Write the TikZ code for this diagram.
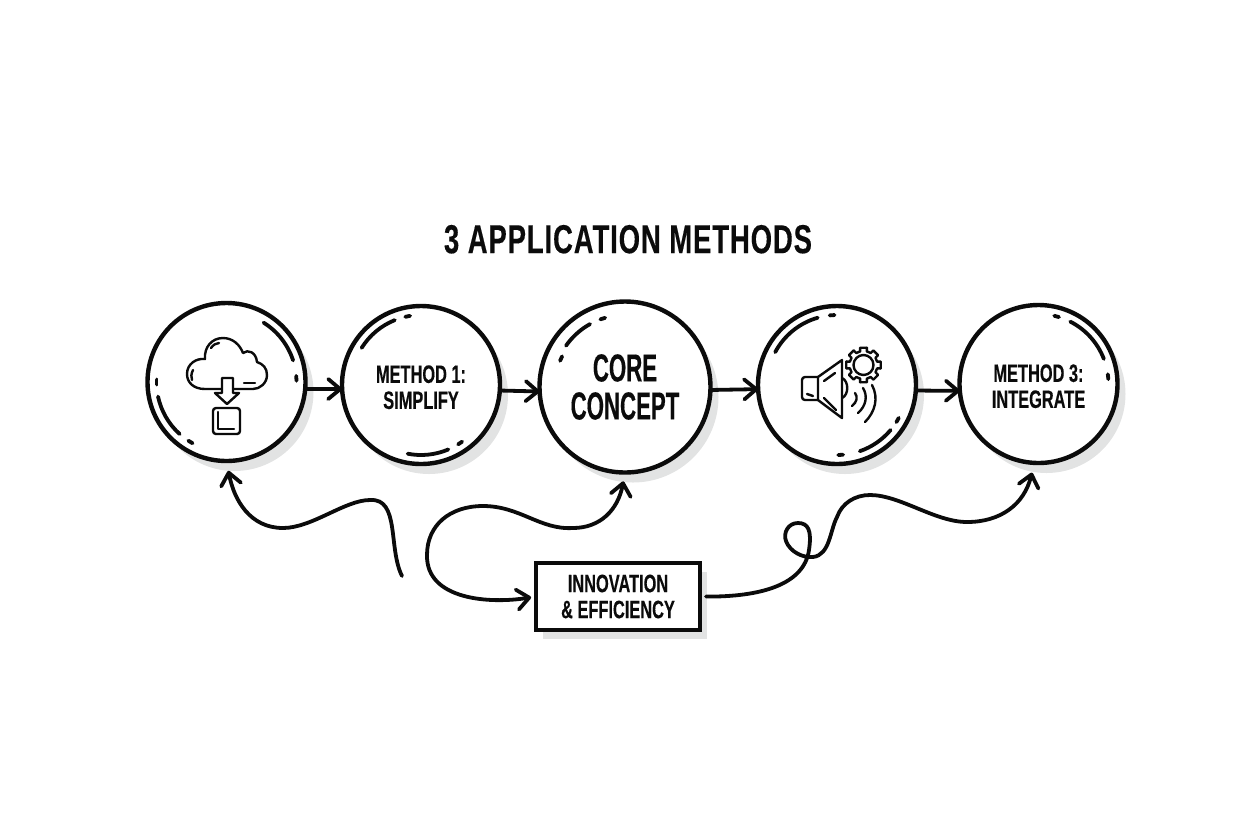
\documentclass[tikz,border=0pt]{standalone}
\usepackage{fontspec}
\usetikzlibrary{arrows.meta,positioning,calc,shadows}
\newfontfamily\headfont[FakeStretch=0.65,FakeBold=0.25]{Liberation Sans Bold}
\newfontfamily\corehead[FakeStretch=0.57,FakeBold=0.3]{Liberation Sans Bold}
\newfontfamily\titlehead[FakeStretch=0.68,FakeBold=0.3,LetterSpace=2.2]{Liberation Sans Bold}
\definecolor{inkblack}{HTML}{0B0B0B}
\definecolor{shadowgray}{HTML}{E2E3E3}
\tikzset{
    stepcircle/.style={circle, draw=inkblack, fill=white, line width=2.2pt, outer sep=0pt, inner sep=0pt, align=center, minimum size=79pt, text=inkblack,
        drop shadow={shadow xshift=4pt, shadow yshift=-5pt, opacity=1, fill=shadowgray}},
    stepfont/.style={font=\headfont\fontsize{12.6}{13}\selectfont},
    corefont/.style={font=\corehead\fontsize{19.5}{19}\selectfont},
    titlefont/.style={font=\titlehead\fontsize{20.2}{20}\selectfont},
    flowarrow/.style={-{Straight Barb[length=6pt,width=10pt,round]}, draw=inkblack, line width=1.9pt},
    flowcurve/.style={draw=inkblack, line width=1.9pt, line cap=round},
    glint/.style={draw=inkblack, line width=1.9pt, line cap=round},
    iconline/.style={draw=inkblack, line width=1.2pt, line cap=round, line join=round}
}
\newcommand{\glintarc}[3]{\draw[glint] ([shift={(#2:35pt)}]#1.center) arc[start angle=#2, end angle=#3, radius=35pt];}
\newcommand{\lowstrut}{\rule{0pt}{11pt}}
\begin{document}
\begin{tikzpicture}[x=0.5pt, y=-0.5pt]
    \useasboundingbox (0,0) rectangle (1248,832);
    \node[stepcircle] (cloudstep) at (226.5,382) {};
    \node[stepcircle, stepfont, right=18.25pt of cloudstep, yshift=-1.5pt] (simplify) {\lowstrut METHOD 1:\\SIMPLIFY};
    \node[stepcircle, corefont, minimum size=85.5pt, right=19.75pt of simplify, yshift=-1pt] (core) {CORE\\CONCEPT};
    \node[stepcircle, right=23.75pt of core, yshift=1pt] (soundstep) {};
    \node[stepcircle, stepfont, right=21.75pt of soundstep, yshift=0.5pt] (integrate) {\lowstrut METHOD 3:\\INTEGRATE};
    \node[titlefont, text=inkblack, inner sep=0pt, above=23.75pt of core, xshift=1.5pt] (title) {3 APPLICATION METHODS};
    \node[draw=inkblack, fill=white, line width=2pt, outer sep=0pt, align=center, stepfont, text=inkblack, minimum width=82pt, minimum height=33.5pt,
        drop shadow={shadow xshift=3.5pt, shadow yshift=-4.5pt, opacity=1, fill=shadowgray},
        below=45.25pt of core, xshift=-3.5pt] (innovation) {INNOVATION\\\& EFFICIENCY};

    % straight arrows along the row
    \draw[flowarrow] (cloudstep.-5) -- (simplify.183);
    \draw[flowarrow] (simplify.-4.5) -- (core.183);
    \draw[flowarrow] (core.-2) -- (soundstep.183.5);
    \draw[flowarrow] (soundstep.-4.5) -- (integrate.185);

    % curved connectors
    \coordinate (looseend) at (402,576);
    \draw[flowcurve, flowarrow, shorten >=5pt] (looseend) .. controls (388,548) and (400,498) .. (370,500)
        .. controls (345,500) and (312,528) .. (283,528)
        .. controls (250,528) and (234,500) .. (cloudstep.south);
    \draw[flowcurve, {Straight Barb[length=6pt,width=10pt,round]}-{Straight Barb[length=6pt,width=10pt,round]}, shorten <=2.5pt, shorten >=4.5pt]
        (innovation.west) .. controls (490,604) and (426,600) .. (427,555)
        .. controls (427,525) and (450,506) .. (483,506)
        .. controls (520,506) and (540,530) .. (573,528)
        .. controls (600,528) and (618,510) .. (core.south);
    \draw[flowcurve, flowarrow, shorten <=3pt, shorten >=5pt] (innovation.east) .. controls (760,597) and (804,585) .. (809,550)
        .. controls (812,530) and (808,523) .. (798,523)
        .. controls (788,523) and (783,533) .. (786,541)
        .. controls (790,552) and (803,558) .. (813,557)
        .. controls (830,555) and (830,530) .. (837,517)
        .. controls (842,503) and (855,495) .. (870,495)
        .. controls (900,495) and (935,522) .. (967,522)
        .. controls (1000,522) and (1024,505) .. (integrate.267);

    % glints inside the circles
    \glintarc{cloudstep}{58}{18}
    \glintarc{cloudstep}{192}{228}
    \glintarc{cloudstep}{1}{5}
    \glintarc{cloudstep}{178}{182}
    \glintarc{cloudstep}{237}{241}
    \glintarc{simplify}{148}{112}
    \glintarc{simplify}{99}{103}
    \glintarc{simplify}{259}{293}
    \glintarc{simplify}{302}{306}
    \glintarc{soundstep}{152}{106}
    \glintarc{soundstep}{92}{96}
    \glintarc{soundstep}{289}{320}
    \glintarc{soundstep}{328}{332}
    \glintarc{soundstep}{271}{275}
    \glintarc{integrate}{63}{21}
    \glintarc{integrate}{73}{77}
    \glintarc{integrate}{4}{8}
    \draw[glint] ([shift={(145:36pt)}]core.center) arc[start angle=145, end angle=119, radius=36pt];
    \draw[glint] ([shift={(106:36pt)}]core.center) arc[start angle=106, end angle=110, radius=36pt];
    \draw[glint] ([shift={(154:35pt)}]core.center) arc[start angle=154, end angle=158, radius=35pt];

    % cloud icon
    \draw[iconline] (205,389) .. controls (193,389) and (187,382) .. (187,374)
        .. controls (187,364) and (196,358) .. (205,359)
        .. controls (204,347) and (212,338) .. (223,338)
        .. controls (233,338) and (240,345) .. (243,353)
        .. controls (248,349) and (256,352) .. (257,362)
        .. controls (263,364) and (267,368) .. (267,375)
        .. controls (267,383) and (260,389) .. (253,389) -- cycle;
    \draw[iconline] (193,370) .. controls (191,374) and (191,377) .. (192,380);
    \draw[iconline] (211,348) .. controls (213,345) and (216,343) .. (219,343);
    \draw[iconline] (244,383) -- (255,383);
    \draw[iconline, fill=white] (222,378) -- (233,378) -- (233,393) -- (239,393) -- (227,404) -- (215,393) -- (222,393) -- cycle;
    \draw[iconline, rounded corners=1.5pt] (213,408) rectangle (240,434);
    \draw[iconline] (218,412) -- (218,429) -- (234,429);

    % speaker and gear icon
    \coordinate (gear) at (863.5,365);
    \draw[iconline, rounded corners=1.5pt] (818,377) -- (802,377) -- (802,400) -- (818,400);
    \draw[iconline] (818,377) -- (842,360) -- (842,418) -- (818,400) -- cycle;
    \draw[iconline] (824,381) -- (835,373);
    \draw[iconline] (824,398) -- (836,410);
    \draw[iconline] (807,394) -- (813,396);
    \draw[iconline] (842,378) .. controls (849,381) and (849,395) .. (842,398);
    \draw[iconline] (855,393) .. controls (858,397) and (857,402) .. (852,406);
    \draw[iconline] (863,388) .. controls (868,396) and (866,406) .. (858,413);
    \draw[iconline] (872,385) .. controls (879,398) and (875,412) .. (865,422);
    \draw[iconline] (gear) circle[radius=5pt];
    \foreach \a in {0,45,...,315} {
        \draw[iconline] ($(gear)+(\a-11:8.8pt)$) -- ($(gear)+(\a+11:8.8pt)$) -- ($(gear)+(\a+14:7pt)$)
            arc[start angle=\a+14, end angle=\a+31, radius=7pt] -- ($(gear)+(\a+34:8.8pt)$);
    }
\end{tikzpicture}
\end{document}
